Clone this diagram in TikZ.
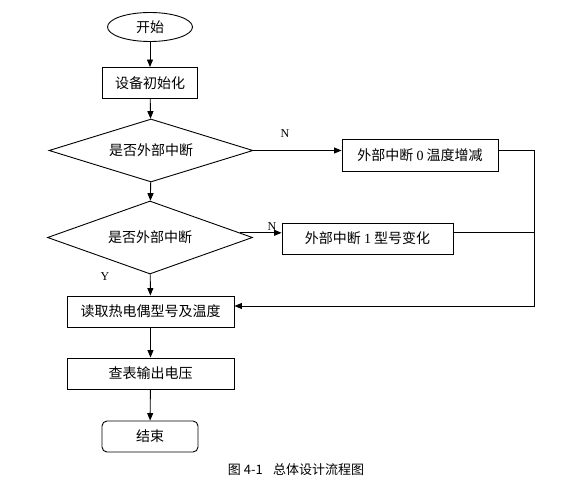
\documentclass[tikz,border=0pt]{standalone}
\usepackage{fontspec}
\setmainfont{Liberation Serif}
\newfontfamily\cjk{Noto Sans CJK SC}
\usetikzlibrary{shapes.geometric,arrows.meta,calc}
\tikzset{
  base/.style={draw=black, line width=0.9pt, inner sep=0pt, font=\fontsize{14}{16}\selectfont\cjk},
  procbox/.style={base, rectangle, minimum height=31},
  termbox/.style={base, rectangle, rounded corners=5pt, minimum width=96, minimum height=31},
  startnode/.style={base, ellipse, minimum width=85, minimum height=29},
  decision/.style={base, diamond, minimum width=204, minimum height=63},
  conn/.style={line width=0.9pt, -{Triangle[length=7.5pt,width=6pt]}},
  plain/.style={line width=0.9pt},
  lbl/.style={font=\fontsize{12}{14}\selectfont, inner sep=0pt},
}
\begin{document}
\begin{tikzpicture}[x=1pt,y=-1pt]
\useasboundingbox[fill=white] (0,0) rectangle (580,489);
\node[startnode] (start) at (150,27) {开始};
\node[procbox, minimum width=95] (init) at (150,83) {设备初始化};
\node[decision, aspect=3.24] (d1) at (151,150.5) {是否外部中断};
\node[decision, aspect=2.8, minimum width=205, minimum height=73] (d2) at (150,237.5) {是否外部中断};
\node[procbox, minimum width=156, minimum height=32] (b0) at (420,155) {外部中断 {\rmfamily 0} 温度增减};
\node[procbox, minimum width=171] (b1) at (367.5,238.5) {外部中断 {\rmfamily 1} 型号变化};
\node[procbox, minimum width=167] (read) at (150.5,311.5) {读取热电偶型号及温度};
\node[procbox, minimum width=167] (table) at (150.5,373.5) {查表输出电压};
\node[termbox] (end) at (150,436.5) {结束};
\node[lbl] (n1) at (285,134) {N};
\node[lbl] (n2) at (272,227) {N};
\node[lbl] (y1) at (105,277) {Y};
\node[font=\fontsize{13}{15}\selectfont\cjk, inner sep=0pt] (cap) at (296,470) {图 4-1\hspace{0.8em}总体设计流程图};
\coordinate (rr) at (534,306);
\coordinate (a2) at ($(d2.east)!0.127!(d2.north)$);
\draw[conn] (start) -- (init);
\draw[conn] (init) -- (d1);
\draw[conn] (d1) -- (d2);
\draw[conn] (d2) -- (read);
\draw[conn] (read) -- (table);
\draw[conn] (table) -- (end);
\draw[conn] (d1.east) -- (d1.east -| b0.west);
\draw[conn] (a2) -- (a2 -| b1.west);
\draw[plain] (b1.east |- a2) -- (a2 -| rr);
\draw[conn] (b0.east |- d1.east) -| (rr) -- (rr -| read.east);
\end{tikzpicture}
\end{document}
